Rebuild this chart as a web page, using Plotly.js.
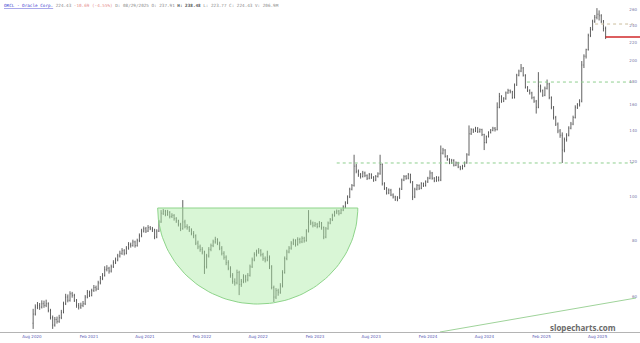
<!DOCTYPE html>
<html><head><meta charset="utf-8">
<script src="https://cdn.plot.ly/plotly-3.0.1.min.js"></script>
<style>html,body{margin:0;padding:0;background:#fff;overflow:hidden}#chart{width:640px;height:343px}</style>
</head><body><div id="chart"></div>
<script>
// Weekly bars, first week starting Aug 3 2020 (mid-week date used)
const firstWeekMid = '2020-08-05';
const open = [
52.5,55,57,57.5,57,58,57.5,58,56,54,
52,53.5,53,54,55.5,58,60,59,61,60.5,
59,57.5,57,57.5,58,60,61.5,60.5,62,63,
62.5,64.5,66,67,69,69.5,68.5,70,71.5,72.5,
74,75,76,75,77,78.5,78,79.5,78,80,
82,84,85,84,85.5,85,84.5,81.5,84,88,
92,93,91.5,92.5,90.5,91,89.5,88.5,87,85,
88,86,85.5,84.5,83,82,79,77.5,76.5,75.5,
70,74,76.5,78,79.5,80.5,79,77,75,73.5,
71.5,69.5,67,65,64.5,68,64,65,66.5,65.5,
67,70,72.5,74.5,75.5,76,74.5,73,72.5,73.5,
70,63,60,62,61.5,63.5,68,73,75.5,77,
79,80,78.5,80.5,79.5,81,80,84,88,87.5,
86.5,87,86,87.5,85.5,81.5,85,87.5,89,91,
92.5,93,92,93.5,95,97,100,104,106,117,
114,112,111,113,111.5,110,112,110.5,109,111,
112.5,118,107,104.5,102,103.5,101,100,98.5,99.5,
104,109,111,110,112,108,100,104,106,104.5,
107,106,108,110,113,110,108.5,110.5,109,125,
127,123,121,119,120.5,117.5,119,116.5,115.5,117,
119,124,138,141,140,142,139.5,141,137.5,132,
136,139,140.5,142,141,158,167,163,165,170,
172,171,166,177,186,190,193,186,175,172,
170,166,163,158,176,172,168,174,178,166,
158,150,145,140,137,127,134,137,142,145,
150,158,160,163,196,205,212,228,235,245,
250,254,252,245,236];
const high = [
56.5,57.8,58.5,58.2,59,58.9,59.2,58.4,56.5,54.6,
54.2,54.3,54.8,56.2,58.6,61,60.8,61.8,61.6,61,
59.4,58.2,58.3,58.8,60.6,62.2,62,62.6,63.8,63.6,
65.2,66.8,67.8,70.2,70.6,70,70.8,72.4,73.4,74.8,
76,77,76.6,77.8,79.4,79.2,80.4,80,80.8,83,
85,86,85.8,86.6,86.2,85.8,85,84.8,89,93.5,
94,93.6,93.6,93,92,91.6,90.2,89,87.6,98.4,
89,87,86.2,85.2,84,82.6,80,78.4,77.4,76,
74.8,77.4,78.8,80.4,81.6,81,79.6,77.8,75.8,74.2,
72.4,70.2,67.8,66,69,68.6,65.8,67.4,67.2,67.8,
70.8,73.4,75.4,76.4,77,76.6,75.2,73.8,76,74.2,
70.6,63.6,62.8,62.6,64.4,68.8,73.8,76.4,77.8,79.8,
80.8,80.6,81.4,81.2,81.8,81.6,84.8,93.5,89,88.2,
88,87.6,88.4,88,86,85.8,88.2,89.8,91.8,93.2,
93.8,93.6,94.2,95.8,97.8,100.8,104.8,106.8,124,118.4,
115,113,114.2,113.8,112.2,113,112.8,111.2,111.8,113.4,
124,118.6,107.8,105.2,104.4,104.2,101.8,100.6,100.4,104.8,
109.8,111.8,111.8,113,112.6,108.4,104.8,106.8,106.6,107.8,
107.6,108.8,110.8,114.5,113.6,110.6,111.2,111,130,128.4,
127.6,123.8,121.8,121.4,121.2,119.8,119.6,117.2,117.8,119.8,
125,144,142,141.8,143,142.8,141.8,141.6,138,136.8,
139.8,141.4,143,142.8,162,170,168,166.4,171.2,173.6,
173,171.8,178.4,187.4,191.4,197,194,187,176,173.2,
171,167,164,189,177.4,173,175.6,182,179,167,
159,151.2,146.2,141.4,139,135.4,138.4,143.4,146.6,151.4,
159.6,161.4,164.6,200,207,213,230,238,247,253,
262,259,254,246.6,238.5];
const low = [
51,54.6,56.4,56.2,56.6,56.8,57,55.5,53.5,51,
51.6,52.4,52.6,53.6,55.2,57.6,58.4,58.6,59.8,58.5,
56.8,56.3,56.5,57,57.6,59.6,60,60.2,61.6,61.8,
62.2,64,65.4,66.6,68.4,67.6,68,69.6,71,72,
73.4,74.4,74.2,74.6,76.4,77.2,77.6,77.2,77.6,79.4,
81.4,83.4,83.2,83.6,84.4,83.6,80.6,81,83.6,87.6,
91.2,90.6,90.8,89.6,89.8,88.6,87.6,86,84,84.6,
85.2,84.6,83.6,82.2,81,78.2,76.6,75.6,74.6,67.5,
69.4,73.4,75.8,77.4,78.8,78.2,76.2,74.2,72.6,70.6,
68.8,66.2,64.2,63.6,64,60.6,63.2,64.4,64.6,65,
66.6,69.6,72,73.8,74.8,73.8,72.2,71.6,72,69.2,
62.4,58.5,59.4,60.4,61,63,67.6,72.4,75,76.4,
78.2,77.6,78,78.8,79,79.2,79.6,83.4,86.6,85.6,
85.8,85.2,85.6,84.6,80.6,81,84.6,87,88.4,90.4,
91.6,91,91.6,93,94.4,96.4,99.4,103.4,105.4,112.8,
110.8,109.8,110.4,110.6,109,109.4,109.6,108,108.4,110.4,
112,106,103.6,101.2,101.4,100.4,99.2,98,97.8,99,
103.6,108.4,109.2,109.4,107.2,98.4,99.4,103.4,103.6,104,
105.2,105.4,107.4,109.4,109.2,107.8,108,108.2,108.4,124.2,
122.2,120.2,118.2,118.4,116.8,117,115.8,114.6,115,116.4,
118.4,123.4,137.2,138.6,139.2,138.6,138.8,136.4,127,131.4,
135.4,138.2,139.8,139.6,140.4,157.2,161.6,162.2,164.2,169.2,
169.6,165,165.2,176.2,185,189,184.8,173.8,170.8,168.6,
164.6,161.6,153,157.2,170.4,166.6,167.2,173,164.6,156.4,
148.4,143.6,138.4,135.2,118.9,125.6,132.6,136.2,141.2,144.2,
149.2,156.6,158.6,162,193,202.6,211,226,233.6,243,
247.4,246,242.6,232.6,223.8];
const close = [
55,57,57.5,57,58,57.5,58,56,54,52,
53.5,53,54,55.5,58,60,59,61,60.5,59,
57.5,57,57.5,58,60,61.5,60.5,62,63,62.5,
64.5,66,67,69,69.5,68.5,70,71.5,72.5,74,
75,76,75,77,78.5,78,79.5,78,80,82,
84,85,84,85.5,85,84.5,81.5,84,88,92,
93,91.5,92.5,90.5,91,89.5,88.5,87,85,88,
86,85.5,84.5,83,82,79,77.5,76.5,75.5,70,
74,76.5,78,79.5,80.5,79,77,75,73.5,71.5,
69.5,67,65,64.5,68,64,65,66.5,65.5,67,
70,72.5,74.5,75.5,76,74.5,73,72.5,73.5,70,
63,60,62,61.5,63.5,68,73,75.5,77,79,
80,78.5,80.5,79.5,81,80,84,88,87.5,86.5,
87,86,87.5,85.5,81.5,85,87.5,89,91,92.5,
93,92,93.5,95,97,100,104,106,117,114,
112,111,113,111.5,110,112,110.5,109,111,112.5,
118,107,104.5,102,103.5,101,100,98.5,99.5,104,
109,111,110,112,108,100,104,106,104.5,107,
106,108,110,113,110,108.5,110.5,109,125,127,
123,121,119,120.5,117.5,119,116.5,115.5,117,119,
124,138,141,140,142,139.5,141,137.5,132,136,
139,140.5,142,141,158,167,163,165,170,172,
171,166,177,186,190,193,186,175,172,170,
166,163,158,176,172,168,174,178,166,158,
150,145,140,137,127,134,137,142,145,150,
158,160,163,196,205,212,228,235,245,250,
254,252,245,236,226.1];

// Axis ticks
const xTickDates = ['2020-08-01','2021-02-01','2021-08-01','2022-02-01','2022-08-01','2023-02-01','2023-08-01','2024-02-01','2024-08-01','2025-02-01','2025-08-01'];
const xTickLabels = ['Aug 2020','Feb 2021','Aug 2021','Feb 2022','Aug 2022','Feb 2023','Aug 2023','Feb 2024','Aug 2024','Feb 2025','Aug 2025'];
const yTickValues = [60,80,100,120,140,160,180,200,220,240,260];
const yTickLabels = ['60','80','100','120','140','160','180','200','220','240','260'];

// Drawn annotations (cup, levels, trend line)
const cupDates = ['2021-09-11','2023-06-19'];
const cupPrices = [94.5, 57.9]; // rim, bottom
const levelStartDates = ['2023-04-12','2024-12-16','2025-07-24'];
const levelPrices = [118.9, 179.7, 241.6];
const levelEndDate = '2025-11-24';
const trendDates = ['2024-03-10','2025-12-03'];
const trendPrices = [50.2, 59.7];
const xRange = ['2020-04-20','2025-12-16'];
const yRange = [50.2, 273.1];

const DAY = 86400000;
const t0 = Date.parse(firstWeekMid);
const dates = close.map((_, i) => new Date(t0 + i * 7 * DAY).toISOString().slice(0, 10));

// cup half-ellipse
const ca = Date.parse(cupDates[0]), cb = Date.parse(cupDates[1]);
const cx = (ca + cb) / 2, rx = (cb - ca) / 2;
const lr = Math.log(cupPrices[0]), lb = Math.log(cupPrices[1]);
const cupX = [], cupY = [];
for (let k = 0; k <= 80; k++) {
  const th = Math.PI * k / 80;
  cupX.push(new Date(cx - rx * Math.cos(th)).toISOString());
  cupY.push(Math.exp(lr - (lr - lb) * Math.sin(th)));
}
cupX.push(cupX[0]); cupY.push(cupY[0]);

const traces = [];
traces.push({type:'scatter', mode:'lines', x:cupX, y:cupY, fill:'toself',
  fillcolor:'rgba(170,235,165,0.45)', line:{color:'#8ed48a', width:1}, hoverinfo:'skip'});
traces.push({type:'scatter', mode:'lines', x:trendDates, y:trendPrices,
  line:{color:'#9fd39a', width:1}, hoverinfo:'skip'});
const levelColors = ['#8fcf8f','#8fcf8f','#cbbd9c'];
levelPrices.forEach((p, i) => {
  traces.push({type:'scatter', mode:'lines', x:[levelStartDates[i], levelEndDate], y:[p, p],
    line:{color:levelColors[i], width:1, dash:'3px,3px'}, hoverinfo:'skip'});
});
traces.push({type:'scatter', mode:'lines', x:[dates[dates.length-1], xRange[1]],
  y:[close[close.length-1], close[close.length-1]], line:{color:'#d0282a', width:1.6}, hoverinfo:'skip'});
traces.push({type:'ohlc', x:dates, open:open, high:high, low:low, close:close,
  increasing:{line:{color:'#3a3a3a', width:0.8}}, decreasing:{line:{color:'#3a3a3a', width:0.8}},
  tickwidth:0.2, hoverinfo:'skip'});

const header = '<u>ORCL - Oracle Corp.</u>' +
  '<span style="color:#8a8a8a"> 224.43 </span>' +
  '<span style="color:#e58a8a">-10.69 (-4.55%)</span>' +
  '<span style="color:#8a8a8a"> D: 08/29/2025 O: 237.91 </span>' +
  '<span style="color:#555"><b>H: 238.48</b></span>' +
  '<span style="color:#8a8a8a"> L: 223.77 C: 224.43 V: 206.9M</span>';

const layout = {
  width:640, height:343,
  margin:{l:0, r:0, t:0, b:11},
  paper_bgcolor:'#fff', plot_bgcolor:'#fff',
  showlegend:false, hovermode:false,
  xaxis:{type:'date', range:xRange, showgrid:false, zeroline:false,
    showline:true, linecolor:'#b4b4b4', linewidth:1,
    tickmode:'array', tickvals:xTickDates, ticktext:xTickLabels, ticks:'',
    tickfont:{family:'DejaVu Sans', size:4, color:'#5a5ab4'},
    rangeslider:{visible:false}},
  yaxis:{type:'log', range:[Math.log10(yRange[0]), Math.log10(yRange[1])], side:'right',
    showgrid:false, zeroline:false, showline:false, ticks:'',
    ticklabelposition:'inside', tickmode:'array', tickvals:yTickValues, ticktext:yTickLabels,
    tickfont:{family:'DejaVu Sans', size:4, color:'#7878a8'}},
  annotations:[
    {xref:'paper', yref:'paper', x:0.003, y:1, xanchor:'left', yanchor:'top', yshift:-1,
     showarrow:false, text:header, align:'left',
     font:{family:'DejaVu Sans Mono', size:4.3, color:'#3a3ad0'}},
    {xref:'paper', yref:'paper', x:0.911, y:0.015, xanchor:'center', yanchor:'middle',
     showarrow:false, text:'<b>slopecharts.com</b>',
     font:{family:'Open Sans', size:8, color:'#6a6a6a'}}
  ]
};
Plotly.newPlot('chart', traces, layout, {staticPlot:true, displayModeBar:false});
</script></body></html>
